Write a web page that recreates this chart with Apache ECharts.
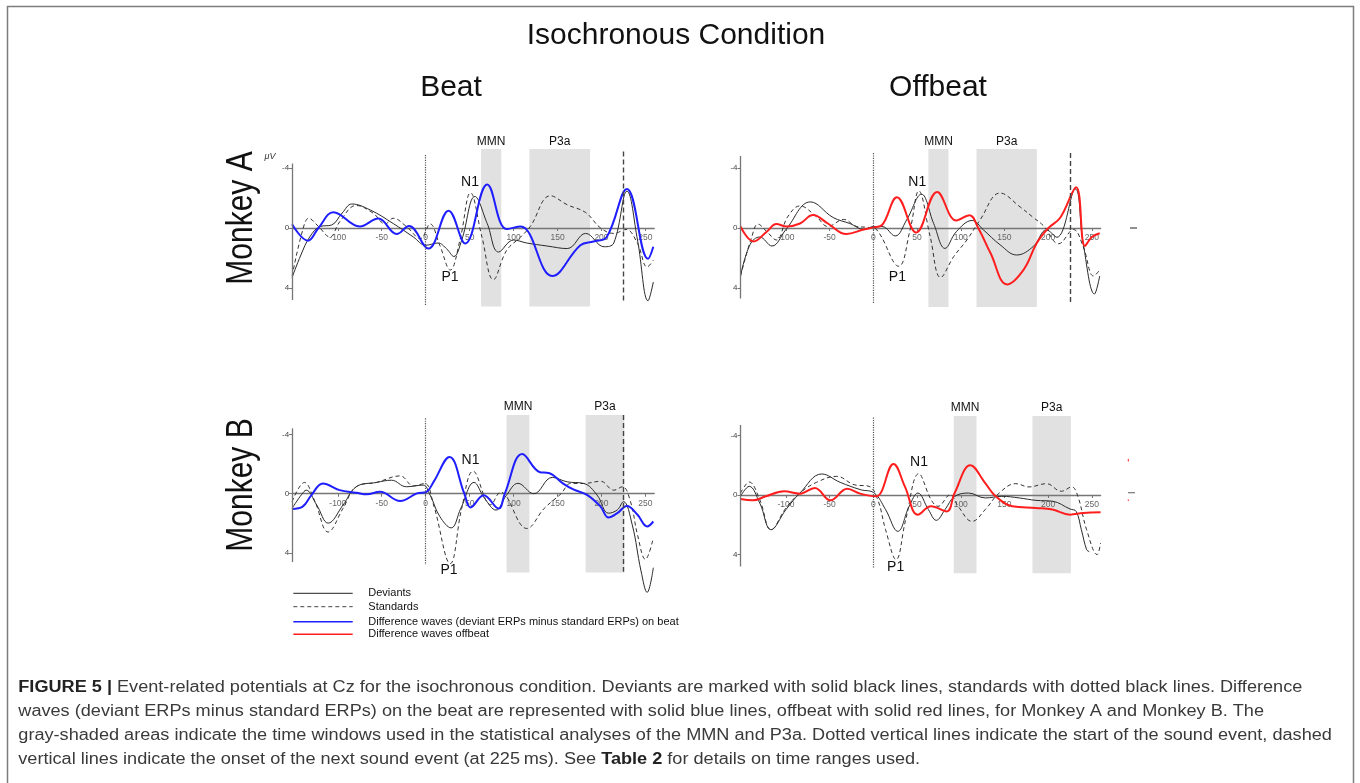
<!DOCTYPE html>
<html><head><meta charset="utf-8">
<script src="https://cdn.jsdelivr.net/npm/echarts@6/dist/echarts.min.js"></script>
<style>html,body{margin:0;padding:0;background:#fff}#c{width:1360px;height:783px}</style>
</head><body><div id="c"></div>
<script>
// ---------------- DATA (time in ms, amplitude in µV; negative plotted up) ----------------
const xTicks = [-100, -50, 0, 50, 100, 150, 200, 250];
const yTicks = [-4, 0, 4];
const soundOnset = 0;
const nextOnset = 225;
const mmnWinA = [63, 86];
const p3aWinA = [118, 187];
const mmnWinB = [92, 118];
const p3aWinB = [182, 226];

// Monkey A – Beat
const devA_beat = [[-152,3.3],[-142,1.8],[-132,0.6],[-120,-0.1],[-107,-0.2],[-95,-1.0],[-84,-1.6],[-63,-1.2],[-37,-0.3],[-14,0.6],[0,1.15],[14,1.0],[24,1.4],[32,1.9],[41,0.8],[56,-2.1],[70,-0.3],[83,1.6],[100,0.8],[115,1.0],[138,1.2],[161,1.37],[182,0.36],[203,1.25],[214,1.0],[229,-2.45],[241,0.8],[253,4.85],[259,3.6]];
const stdA_beat = [[-152,3.2],[-140,0.15],[-133,-0.65],[-122,-0.1],[-109,0.6],[-98,-0.4],[-79,-1.5],[-60,-1.0],[-46,-0.27],[-37,-0.65],[-22,-0.1],[-6,0.7],[5,-0.27],[16,1.15],[28,2.8],[39,0.8],[51,-2.35],[64,0.6],[77,3.45],[92,1.5],[108,0.6],[119,-0.1],[142,-2.15],[161,-1.55],[182,-1.03],[199,0.0],[214,0.36],[228,0.1],[241,1.03],[252,2.6],[259,2.15]];
const diffA_beat = [[-152,-0.25],[-134,0.85],[-122,0],[-105,-1.05],[-75,-0.1],[-54,-0.63],[-33,0.4],[-19,-0.13],[3,1.37],[26,-1.15],[45,1.03],[70,-2.9],[92,0.07],[108,-0.1],[144,3.2],[176,1.15],[191,0.9],[206,0.6],[229,-2.6],[253,2.05],[259,1.25]];

// Monkey A – Offbeat
const devA_off = [[-152,3.2],[-141,1.1],[-130,0.6],[-116,1.2],[-100,0.1],[-72,-1.74],[-46,-0.7],[-27,-0.3],[-10,0.1],[0,-0.1],[10,-0.1],[25,0.53],[38,-0.53],[55,-2.25],[69,-0.3],[82,1.36],[95,0.24],[113,-0.5],[126,0.13],[145,1.12],[164,1.8],[183,1.23],[198,0.13],[210,0.62],[231,-2.6],[240,1.0],[253,4.4],[259,3.2]];
const stdA_off = [[-152,3.2],[-139,0.57],[-132,-0.26],[-122,0.24],[-111,0.8],[-98,-0.75],[-84,-1.47],[-65,-0.75],[-52,-0.1],[-34,-0.57],[-19,-0.1],[-6,-0.04],[4,0.13],[29,2.55],[42,0.13],[52,-2.47],[65,0.57],[77,3.3],[92,1.9],[107,0.8],[122,-0.53],[145,-2.33],[168,-1.4],[183,-0.7],[195,-0.13],[212,1.05],[229,0.1],[240,1.23],[252,3.2],[259,2.8]];
const diffA_off = [[-152,-0.1],[-137,0.9],[-122,0.25],[-111,-0.26],[-99,-0.1],[-84,-0.3],[-69,-0.86],[-52,-0.3],[-31,0.4],[-11,0.1],[0,-0.04],[10,-0.2],[27,-2.05],[49,0.3],[73,-2.4],[95,-0.5],[110,-0.85],[120,0],[134,1.67],[153,3.76],[172,2.77],[187,1.0],[200,0.02],[214,-0.7],[232,-2.72],[242,1.2],[250,0.6],[259,0.35]];

// Monkey B – Beat
const devB_beat = [[-152,0.98],[-141,0.04],[-136,-0.24],[-124,0.76],[-111,1.98],[-94,0.76],[-79,-0.47],[-56,-0.76],[-39,-0.91],[-22,-0.47],[-3,-0.58],[5,0.09],[16,1.53],[29,2.3],[40,0.98],[55,-0.76],[67,0.31],[80,1.1],[92,0.09],[105,-0.7],[123,0],[144,-1.1],[161,-0.8],[180,-0.69],[195,0.09],[208,1.31],[218,1.09],[225,0.53],[235,2.09],[245,5.2],[252,6.64],[259,4.98]];
const stdB_beat = [[-152,0.53],[-138,-0.76],[-126,0.53],[-111,2.58],[-94,0.98],[-79,-0.47],[-56,-0.76],[-29,-1.2],[-14,-0.53],[-1,-0.69],[9,0.76],[28,4.7],[41,0.98],[54,-1.52],[74,0.74],[85,-0.1],[115,2.34],[135,0.98],[154,0],[165,-0.69],[180,-0.69],[199,-0.84],[214,-0.24],[224,-0.47],[233,0.53],[241,2.76],[250,4.42],[259,2.98]];
const diffB_beat = [[-152,1.02],[-140,0.87],[-130,0.09],[-117,-0.69],[-98,-0.24],[-79,-0.07],[-67,0.04],[-52,-0.13],[-29,0.49],[-10,-0.02],[1,-0.13],[9,-0.8],[27,-2.48],[44,0],[51,0.92],[66,0.1],[83,1.0],[90,0],[110,-2.67],[130,-1.45],[140,-1.4],[156,-0.7],[168,-0.29],[184,0.09],[199,0.87],[208,1.6],[218,1.31],[229,0.82],[241,1.42],[252,2.2],[259,1.87]];

// Monkey B – Offbeat
const devB_off = [[-152,0.09],[-142,-0.58],[-130,0.54],[-117,2.33],[-100,0.98],[-84,-0.13],[-59,-1.41],[-38,-0.85],[-15,-0.36],[1,-0.13],[14,0.98],[28,2.44],[41,0.76],[51,-0.13],[63,0.98],[72,1.7],[82,0.98],[93,0.1],[109,-0.13],[128,0.2],[147,0.09],[167,0.2],[186,0.36],[205,0.42],[225,0.94],[232,1.1],[238,2.33],[244,3.67],[247,3.8]];
const stdB_off = [[-152,-0.13],[-142,-0.87],[-130,0.31],[-117,2.33],[-100,0.87],[-84,-0.13],[-65,-0.85],[-42,-1.25],[-22,-0.69],[-5,-0.58],[5,0.31],[14,2.33],[26,4.34],[37,1.66],[52,-1.43],[66,0.31],[74,0.76],[88,-0.02],[97,0.76],[113,1.77],[128,0.98],[144,-0.13],[163,-0.76],[178,-0.54],[198,-0.76],[215,-0.25],[227,-0.54],[234,0.09],[244,2.33],[256,4.0],[260,3.22]];
const diffB_off = [[-152,0.27],[-138,0.36],[-123,0.09],[-102,-0.25],[-84,-0.09],[-67,-0.47],[-49,0.36],[-30,-0.42],[-15,-0.09],[3,0.09],[23,-2.08],[36,-0.58],[51,1.32],[66,0.76],[84,1.1],[93,-0.13],[111,-1.99],[128,-0.8],[140,0.09],[159,0.76],[186,0.87],[205,0.98],[225,1.32],[240,1.21],[260,1.16]];

const seriesNames = ['Deviants', 'Standards', 'Difference waves (deviant ERPs minus standard ERPs) on beat', 'Difference waves offbeat'];

// ---------------- LAYOUT / STYLE ----------------
const FONT = '"Liberation Sans", Arial, Helvetica, sans-serif';
const BLUE = '#1e1eff', RED = '#ff1e1e';
const X_MIN = -152, X_MAX = 260;

const panels = [
  {grid:{left:292.1, top:148.5, width:362.1, height:159}, y:[-5.3,5.3],
   dev:devA_beat, std:stdA_beat, diff:diffA_beat, diffColor:BLUE, diffName:seriesNames[2],
   mmn:mmnWinA, p3a:p3aWinA, shade:[-5.27,5.24], dotted:[-4.87,5.13], dashed:[-5.1,5.0], axis:[-4.3,4.8],
   n1:[50.4,-3.07], p1:[27.6,3.27], labDist:1},
  {grid:{left:740.5, top:148.5, width:360.1, height:159}, y:[-5.3,5.3],
   dev:devA_off, std:stdA_off, diff:diffA_off, diffColor:RED, diffName:seriesNames[3],
   mmn:mmnWinA, p3a:p3aWinA, shade:[-5.27,5.26], dotted:[-5.0,5.0], dashed:[-5.0,5.05], axis:[-4.8,4.7],
   n1:[50.3,-3.09], p1:[27.5,3.25], labDist:1},
  {grid:{left:292.1, top:415, width:362.1, height:182.7}, y:[-5.3,7],
   dev:devB_beat, std:stdB_beat, diff:diffB_beat, diffColor:BLUE, diffName:seriesNames[2],
   mmn:mmnWinB, p3a:p3aWinB, shade:[-5.3,5.3], dotted:[-5.08,4.8], dashed:[-5.3,5.25], axis:[-4.4,4.6],
   n1:[51,-2.27], p1:[26.5,5.14], labDist:2},
  {grid:{left:740.5, top:416, width:360.1, height:183.3}, y:[-5.3,7],
   dev:devB_off, std:stdB_off, diff:diffB_off, diffColor:RED, diffName:seriesNames[3],
   mmn:mmnWinB, p3a:p3aWinB, shade:[-5.35,5.25], dotted:[-5.2,4.9], dashed:[-5.35,4.7], axis:[-4.7,4.8],
   n1:[52.2,-2.23], p1:[25.5,4.81], labDist:2}
];

const grids = [], xAxes = [], yAxes = [], series = [];
panels.forEach((p, i) => {
  grids.push(Object.assign({containLabel:false}, p.grid));
  // pixel distance from the grid's bottom edge up to the zero line (inverse y: max at bottom)
  const zeroFromBottom = (p.y[1] - 0) / (p.y[1] - p.y[0]) * p.grid.height;
  xAxes.push({
    type:'value', gridIndex:i, min:X_MIN, max:X_MAX, z:2, position:'bottom', offset:-zeroFromBottom,
    axisLine:{show:true, onZero:false, lineStyle:{color:'#767676', width:1.3}},
    axisTick:{show:true, customValues:xTicks, length:3, lineStyle:{color:'#767676'}},
    axisLabel:{show:true, customValues:xTicks, fontSize:8.5, color:'#666', margin:5, fontFamily:FONT},
    splitLine:{show:false}
  });
  yAxes.push({
    type:'value', gridIndex:i, inverse:true, min:p.y[0], max:p.y[1],
    axisLine:{show:false, onZero:false},
    axisTick:{show:true, customValues:yTicks, length:3, lineStyle:{color:'#767676'}},
    axisLabel:{show:true, customValues:yTicks, fontSize:8, color:'#444', margin:3, fontFamily:FONT},
    splitLine:{show:false}
  });
  // helper series carrying shading, reference lines and peak labels
  series.push({
    type:'line', name:'marks'+i, xAxisIndex:i, yAxisIndex:i, data:[], z:1, silent:true,
    markArea:{
      silent:true, itemStyle:{color:'#e1e1e1'},
      label:{show:true, position:'top', distance:p.labDist, fontSize:12, color:'#111', fontFamily:FONT},
      data:[
        [{name:'MMN', xAxis:p.mmn[0], yAxis:p.shade[0]}, {xAxis:p.mmn[1], yAxis:p.shade[1]}],
        [{name:'P3a', xAxis:p.p3a[0], yAxis:p.shade[0]}, {xAxis:p.p3a[1], yAxis:p.shade[1]}]
      ]
    },
    markLine:{
      silent:true, symbol:['none','none'], label:{show:false}, animation:false,
      data:[
        [{coord:[X_MIN, p.axis[0]], lineStyle:{type:'solid', color:'#767676', width:1.3}}, {coord:[X_MIN, p.axis[1]]}],
        [{coord:[soundOnset, p.dotted[0]], lineStyle:{type:'dotted', color:'#555', width:1.2}}, {coord:[soundOnset, p.dotted[1]]}],
        [{coord:[nextOnset, p.dashed[0]], lineStyle:{type:[5,3], color:'#444', width:1.4}}, {coord:[nextOnset, p.dashed[1]]}]
      ]
    },
    markPoint:{
      silent:true, symbol:'circle', symbolSize:1, itemStyle:{color:'rgba(0,0,0,0)'},
      label:{show:true, position:'inside', formatter:'{b}', fontSize:14, color:'#111', fontFamily:FONT},
      data:[{name:'N1', coord:p.n1}, {name:'P1', coord:p.p1}]
    }
  });
  series.push({type:'line', name:seriesNames[0], xAxisIndex:i, yAxisIndex:i, data:p.dev, smooth:0.4,
    symbol:'none', z:3, lineStyle:{color:'#2a2a2a', width:1}});
  series.push({type:'line', name:seriesNames[1], xAxisIndex:i, yAxisIndex:i, data:p.std, smooth:0.4,
    symbol:'none', z:3, lineStyle:{color:'#333', width:1, type:[4,3]}});
  series.push({type:'line', name:p.diffName, xAxisIndex:i, yAxisIndex:i, data:p.diff, smooth:0.4,
    symbol:'none', z:4, lineStyle:{color:p.diffColor, width:2}});
});

// ---------------- TEXT / DECORATION ----------------
const ctx = document.createElement('canvas').getContext('2d');
function tw(font, s){ ctx.font = font; return ctx.measureText(s).width; }
const CAP_SIZE = 16;
const capLines = [
  [['b','FIGURE 5 |'],['n',' Event-related potentials at Cz for the isochronous condition. Deviants are marked with solid black lines, standards with dotted black lines. Difference']],
  [['n','waves (deviant ERPs minus standard ERPs) on the beat are represented with solid blue lines, offbeat with solid red lines, for Monkey A and Monkey B. The']],
  [['n','gray-shaded areas indicate the time windows used in the statistical analyses of the MMN and P3a. Dotted vertical lines indicate the start of the sound event, dashed']],
  [['n','vertical lines indicate the onset of the next sound event (at 225\u2009ms). See '],['b','Table 2'],['n',' for details on time ranges used.']]
];
function lineWidth(parts){
  return parts.reduce((s,[k,t]) => s + tw((k==='b'?'bold ':'') + CAP_SIZE + 'px ' + FONT, t), 0);
}
const capScale = 1284 / lineWidth(capLines[0]);
const capY = [688, 712, 736, 760];

const graphics = [];
graphics.push({type:'rect', silent:true, shape:{x:7.5, y:6.5, width:1346, height:820},
  style:{fill:'none', stroke:'#7d7d7d', lineWidth:1.5}});
function addText(text, x, y, size, opts){
  graphics.push(Object.assign({type:'text', x:x, y:y, silent:true,
    style:{text:text, fontSize:size, fontFamily:FONT, fill:'#111', align:'center', verticalAlign:'middle'}}, opts||{}));
}
addText('Isochronous Condition', 676, 36, 30);
addText('Beat', 451, 88, 30);
addText('Offbeat', 938, 88, 30);
addText('Monkey A', 241.7, 218, 37, {rotation:Math.PI/2, scaleX:0.81});
addText('Monkey B', 241.7, 485, 37, {rotation:Math.PI/2, scaleX:0.81});
graphics.push({type:'text', x:270, y:156, silent:true,
  style:{text:'\u03bcV', fontSize:9, fontStyle:'italic', fontFamily:FONT, fill:'#333', align:'center', verticalAlign:'middle'}});

// legend
const legendRows = [
  {name:seriesNames[0], y:593.3, stroke:'#222', w:1, dash:null},
  {name:seriesNames[1], y:606.7, stroke:'#444', w:1, dash:[4,3]},
  {name:seriesNames[2], y:621.7, stroke:BLUE, w:1.6, dash:null},
  {name:seriesNames[3], y:634.3, stroke:RED, w:1.6, dash:null}
];
legendRows.forEach(r => {
  graphics.push({type:'line', silent:true, shape:{x1:293.3, y1:r.y, x2:352.7, y2:r.y},
    style:{stroke:r.stroke, lineWidth:r.w, lineDash:r.dash}});
  graphics.push({type:'text', x:368.3, y:r.y, silent:true,
    style:{text:r.name, fontSize:11, fontFamily:FONT, fill:'#111', align:'left', verticalAlign:'middle'}});
});

// stray marks at right edge of the offbeat panels
graphics.push({type:'line', silent:true, shape:{x1:1130, y1:228, x2:1137, y2:228}, style:{stroke:'#555', lineWidth:1.3}});
graphics.push({type:'line', silent:true, shape:{x1:1128, y1:492.7, x2:1135, y2:492.7}, style:{stroke:'#777', lineWidth:1.2}});
graphics.push({type:'line', silent:true, shape:{x1:1128.3, y1:459, x2:1128.3, y2:461.5}, style:{stroke:RED, lineWidth:1}});
graphics.push({type:'line', silent:true, shape:{x1:1128.3, y1:499.5, x2:1128.3, y2:501}, style:{stroke:RED, lineWidth:1}});

// caption
capLines.forEach((parts, i) => {
  const text = parts.map(([k,t]) => '{' + k + '|' + t + '}').join('');
  graphics.push({type:'text', x:18.3, y:capY[i], scaleX:capScale, silent:true,
    style:{text:text, align:'left', verticalAlign:'middle', fontSize:CAP_SIZE, fontFamily:FONT,
      rich:{
        b:{fontWeight:'bold', fontSize:CAP_SIZE, fontFamily:FONT, fill:'#222'},
        n:{fontSize:CAP_SIZE, fontFamily:FONT, fill:'#3a3a3a'}
      }}});
});

const chart = echarts.init(document.getElementById('c'), null, {renderer:'canvas'});
chart.setOption({
  animation:false,
  backgroundColor:'#fff',
  grid:grids, xAxis:xAxes, yAxis:yAxes, series:series,
  graphic:{elements:graphics}
});
</script>
</body></html>
